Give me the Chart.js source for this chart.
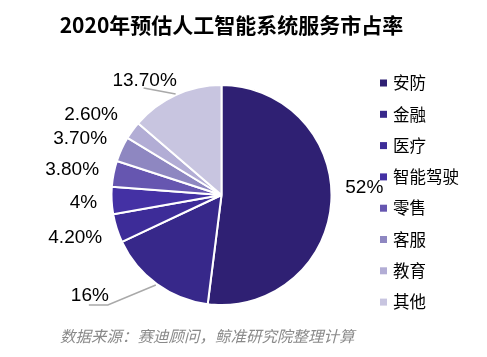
<!DOCTYPE html>
<html>
<head>
<meta charset="utf-8">
<script src="https://cdn.jsdelivr.net/npm/chart.js@4/dist/chart.umd.min.js"></script>
<style>
html,body{margin:0;padding:0;background:#fff;}
#c{display:block;}
</style>
</head>
<body>
<canvas id="c" width="487" height="357"></canvas>
<script>
const titleText = '2020年预估人工智能系统服务市占率';
const sourceText = '数据来源：赛迪顾问，鲸准研究院整理计算';
const categories = ['安防','金融','医疗','智能驾驶','零售','客服','教育','其他'];
const shares = [52, 16, 4.2, 4, 3.8, 3.7, 2.6, 13.7];
const shareLabels = ['52%','16%','4.20%','4%','3.80%','3.70%','2.60%','13.70%'];
const colors = ['#2f2073','#37288a','#3d2c98','#4431a4','#6656b0','#8e87c1','#b2add5','#c8c5e0'];

// label placement style relative to the slice's outer mid point: [dx, dy, align, leader]
const labelStyle = [
  {dx: 14, dy: -14, align: 'left'},
  {dx: -67, dy: 12, align: 'center', leader: [[-1,1],[-49,21],[-68,21]]},
  {dx: -14.5, dy: 9, align: 'right'},
  {dx: -14.5, dy: 2, align: 'right'},
  {dx: -14.5, dy: -4, align: 'right'},
  {dx: -14.5, dy: -10, align: 'right'},
  {dx: -14.5, dy: -16, align: 'right'},
  {dx: -31, dy: -14, align: 'center', leader: [[0,-1],[-32,-7]]}
];

const CJK = '"Noto Sans CJK SC", "Noto Sans", sans-serif';

const overlay = {
  id: 'overlay',
  afterDraw(chart) {
    const ctx = chart.ctx;
    const meta = chart.getDatasetMeta(0);
    ctx.save();
    // title
    ctx.fillStyle = '#000';
    ctx.font = 'bold 21px ' + CJK;
    ctx.textAlign = 'center';
    ctx.textBaseline = 'middle';
    ctx.fillText(titleText, 231.5, 25);
    // source
    ctx.fillStyle = '#8a8a8a';
    ctx.font = 'italic 15.5px ' + CJK;
    ctx.textAlign = 'left';
    ctx.fillText(sourceText, 60, 336);
    // data labels
    meta.data.forEach((arc, i) => {
      const p = arc.getProps(['x','y','startAngle','endAngle','outerRadius'], true);
      const mid = (p.startAngle + p.endAngle) / 2;
      const ex = p.x + Math.cos(mid) * p.outerRadius;
      const ey = p.y + Math.sin(mid) * p.outerRadius;
      const st = labelStyle[i];
      if (st.leader) {
        ctx.strokeStyle = '#a9a9a9';
        ctx.lineWidth = 1.5;
        ctx.beginPath();
        st.leader.forEach((pt, k) => {
          if (k === 0) ctx.moveTo(ex + pt[0], ey + pt[1]);
          else ctx.lineTo(ex + pt[0], ey + pt[1]);
        });
        ctx.stroke();
      }
      ctx.fillStyle = '#000';
      ctx.font = '19px "Liberation Sans", Arial, sans-serif';
      ctx.textAlign = st.align;
      ctx.textBaseline = 'middle';
      ctx.fillText(shareLabels[i], ex + st.dx, ey + st.dy);
    });
    // legend
    ctx.font = '16.5px ' + CJK;
    ctx.textAlign = 'left';
    ctx.textBaseline = 'middle';
    categories.forEach((name, i) => {
      const y = 83 + i * 31.3;
      ctx.fillStyle = colors[i];
      ctx.fillRect(380, y - 3.5, 7, 7);
      ctx.fillStyle = '#000';
      ctx.fillText(name, 393, y);
    });
    ctx.restore();
  }
};

new Chart(document.getElementById('c'), {
  type: 'pie',
  data: {
    labels: categories,
    datasets: [{
      data: shares,
      backgroundColor: colors,
      borderColor: '#ffffff',
      borderWidth: 2
    }]
  },
  options: {
    responsive: false,
    animation: false,
    layout: {padding: {top: 84, bottom: 51, left: 110.5, right: 154.5}},
    plugins: {legend: {display: false}, tooltip: {enabled: false}, title: {display: false}}
  },
  plugins: [overlay]
});
</script>
</body>
</html>
